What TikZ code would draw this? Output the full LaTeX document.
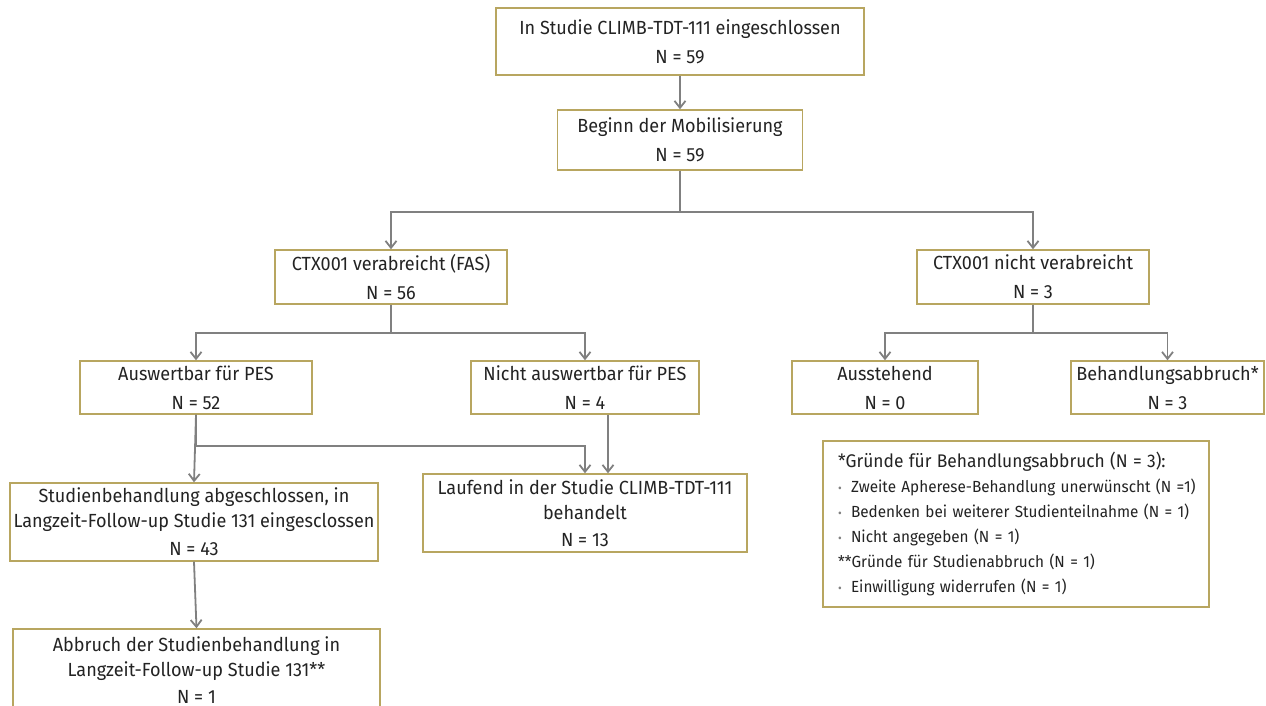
\documentclass[tikz,border=0pt]{standalone}
\usepackage{fontspec}
\setmainfont{Fira Sans}[FakeStretch=0.95]
\usetikzlibrary{arrows.meta}
\definecolor{boxgold}{RGB}{184,166,96}
\definecolor{linegray}{RGB}{128,128,128}
\definecolor{textdark}{RGB}{35,35,35}
\newcommand{\notebullet}{\makebox[13pt][l]{\textcolor{linegray}{\fontsize{12}{12}\selectfont\textbullet}}}
\tikzset{
  flowbox/.style={draw=boxgold, line width=1.4pt, fill=white, align=center, inner sep=0pt,
    text=textdark, font=\fontsize{19}{25}\selectfont},
  notebox/.style={flowbox, align=left, inner xsep=5pt, font=\fontsize{16.1}{25}\selectfont},
  flowarrow/.style={draw=linegray, line width=1.8pt, -{Straight Barb[length=7pt,width=11pt]}}
}
\begin{document}
\begin{tikzpicture}[x=1pt,y=-1pt]
\useasboundingbox (0,0) rectangle (1266,706);
\node[flowbox, minimum width=368pt, minimum height=67pt] (incl) at (680,41.5)
  {In Studie CLIMB-TDT-111 eingeschlossen\\[4pt]N = 59};
\node[flowbox, minimum width=245pt, minimum height=60pt] (mob) at (680,140)
  {Beginn der Mobilisierung\\[4pt]N = 59};
\node[flowbox, minimum width=232pt, minimum height=54pt] (fas) at (391,277)
  {CTX001 verabreicht (FAS)\\[4pt]N = 56};
\node[flowbox, minimum width=232pt, minimum height=54pt] (notadm) at (1033,277)
  {CTX001 nicht verabreicht\\[4pt]N = 3};
\node[flowbox, minimum width=232pt, minimum height=53pt] (pes) at (196,387.5)
  {Auswertbar für PES\\[4pt]N = 52};
\node[flowbox, minimum width=228pt, minimum height=53pt] (nopes) at (585,387.5)
  {Nicht auswertbar für PES\\[4pt]N = 4};
\node[flowbox, minimum width=186pt, minimum height=53pt] (pend) at (885,387.5)
  {Ausstehend\\[4pt]N = 0};
\node[flowbox, minimum width=193pt, minimum height=53pt] (stop) at (1167.5,387.5)
  {Behandlungsabbruch*\\[4pt]N = 3};
\node[flowbox, minimum width=368pt, minimum height=78pt] (done) at (194,522)
  {Studienbehandlung abgeschlossen, in\\Langzeit-Follow-up Studie 131 eingesclossen\\[3pt]N = 43};
\node[flowbox, minimum width=324pt, minimum height=78pt] (ongoing) at (585,513)
  {Laufend in der Studie CLIMB-TDT-111\\behandelt\\[2pt]N = 13};
\node[flowbox, minimum width=367pt, minimum height=82pt] (ltfu) at (196.5,670)
  {Abbruch der Studienbehandlung in\\Langzeit-Follow-up Studie 131**\\[2pt]N = 1};
\node[notebox, text width=376pt, minimum height=166pt] (reasons) at (1016,524)
  {\leftskip=10pt
   {\fontsize{18.3}{25}\selectfont *Gründe für Behandlungsabbruch (N = 3):}\\
   \notebullet Zweite Apherese-Behandlung unerwünscht (N =1)\\
   \notebullet Bedenken bei weiterer Studienteilnahme (N = 1)\\
   \notebullet Nicht angegeben (N = 1)\\
   \relax**Gründe für Studienabbruch (N = 1)\\
   \notebullet Einwilligung widerrufen (N = 1)\par};
\draw[flowarrow] (incl.south) -- (mob.north);
\draw[flowarrow] (mob.south) -- ++(0,41) -| (fas.north);
\draw[flowarrow] (mob.south) -- ++(0,41) -| (notadm.north);
\draw[flowarrow] (fas.south) -- ++(0,28) -| (pes.north);
\draw[flowarrow] (fas.south) -- ++(0,28) -| (nopes.north);
\draw[flowarrow] (notadm.south) -- ++(0,28) -| (pend.north);
\draw[flowarrow] (notadm.south) -- ++(0,28) -| (stop.north);
\draw[flowarrow] (pes.south) -- (done.north);
\draw[flowarrow] (pes.south) -- ++(0,31) -| (ongoing.north);
\draw[flowarrow] ([xshift=23pt]nopes.south) -- ([xshift=23pt]ongoing.north);
\draw[flowarrow] (done.south) -- (ltfu.north);
\end{tikzpicture}
\end{document}
